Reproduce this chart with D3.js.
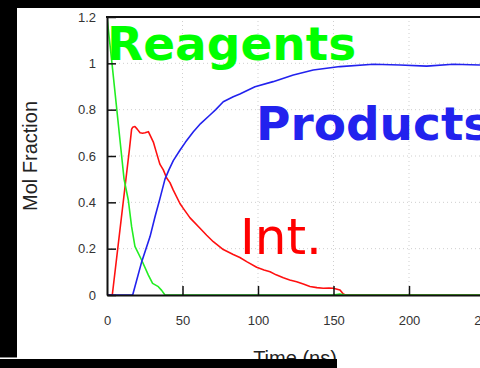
<!DOCTYPE html>
<html><head><meta charset="utf-8">
<script src="https://cdn.jsdelivr.net/npm/d3@7"></script>
<style>html,body{margin:0;padding:0;background:#fff;}svg{display:block;}</style>
</head><body>
<svg id="c" width="480" height="368"></svg>
<script>
// ---- data ----
const xTicks = [0, 50, 100, 150, 200, 250];
const xTickLabels = ["0", "50", "100", "150", "200", "250"];
const yTicks = [0, 0.2, 0.4, 0.6, 0.8, 1.0, 1.2];
const yTickLabels = ["0", "0.2", "0.4", "0.6", "0.8", "1", "1.2"];

const reagentTime = [0, 3.3, 9.7, 11.3, 14.1, 16.3, 18.5, 23, 27.4, 30.2, 34, 36.2, 38.4, 150, 154, 158, 250];
const reagentFrac = [1.2, 1.0, 0.6, 0.5, 0.41, 0.295, 0.21, 0.15, 0.086, 0.05, 0.036, 0.02, 0, 0, 0.004, 0, 0];

const intTime = [0, 3.5, 14.8, 16.3, 17, 18.5, 20, 21.9, 23.6, 25.2, 27.4, 28.5, 30.7, 32.5, 35, 37.3, 39.5, 41.7, 43.9, 48.3, 50.5, 55, 61.6, 66, 70.4, 77, 83.6, 88, 92.5, 99.1, 104, 108, 112, 116.8, 121, 125.6, 130, 134.4, 139, 143.2, 147, 149.9, 154.3, 156.5, 158, 250];
const intFrac = [0, 0, 0.626, 0.716, 0.724, 0.727, 0.716, 0.70, 0.698, 0.70, 0.705, 0.69, 0.66, 0.62, 0.565, 0.54, 0.505, 0.485, 0.453, 0.395, 0.374, 0.333, 0.288, 0.258, 0.23, 0.196, 0.175, 0.162, 0.144, 0.12, 0.108, 0.1, 0.087, 0.074, 0.065, 0.057, 0.047, 0.037, 0.032, 0.029, 0.03, 0.029, 0.022, 0.004, 0, 0];

const prodTime = [0, 17, 23, 28.5, 31.8, 35.1, 38.4, 41, 43.9, 48.3, 52, 57.2, 62, 68.2, 72, 77, 83.6, 88, 98, 110, 123.4, 136.6, 154.3, 176.4, 194, 211.7, 229.3, 247];
const prodFrac = [0, 0, 0.144, 0.252, 0.338, 0.417, 0.5, 0.54, 0.58, 0.625, 0.66, 0.705, 0.74, 0.777, 0.8, 0.834, 0.856, 0.868, 0.899, 0.921, 0.95, 0.971, 0.986, 0.996, 0.993, 0.988, 0.996, 0.993];

const labels = ["Reagents", "Products", "Int."];

// ---- drawing ----
const svg = d3.select("#c");
const x = d3.scaleLinear().domain([0, 250]).range([107, 484.5]);
const y = d3.scaleLinear().domain([0, 1.2]).range([295, 17]);

// grid
const grid = svg.append("g");
grid.selectAll("line.h").data(yTicks.filter(v => v > 0 && v < 1.2)).join("line")
  .attr("x1", x(0)).attr("x2", 484).attr("y1", d => y(d)).attr("y2", d => y(d))
  .attr("stroke", "#cfcfcf").attr("stroke-width", 1).attr("stroke-dasharray", "1,3");
grid.selectAll("line.v").data(xTicks.filter(v => v > 0)).join("line")
  .attr("x1", d => x(d)).attr("x2", d => x(d)).attr("y1", y(1.2)).attr("y2", y(0))
  .attr("stroke", "#cfcfcf").attr("stroke-width", 1).attr("stroke-dasharray", "1,3");

// clip
svg.append("clipPath").attr("id", "pc").append("rect")
  .attr("x", x(0)).attr("y", y(1.2)).attr("width", 400).attr("height", y(0) - y(1.2) + 2);

const line = d3.line().x(d => x(d[0])).y(d => y(d[1]));
const series = [
  {t: intTime, v: intFrac, c: "#ff1010"},
  {t: reagentTime, v: reagentFrac, c: "#22ee22"},
  {t: prodTime, v: prodFrac, c: "#2222ee"}
];
const lg = svg.append("g").attr("clip-path", "url(#pc)");
series.forEach(s => {
  lg.append("path").datum(s.t.map((t, i) => [t, s.v[i]]))
    .attr("d", line).attr("fill", "none").attr("stroke", s.c)
    .attr("stroke-width", 1.6).attr("stroke-linejoin", "round");
});

// axes
const xAxis = d3.axisBottom(x).tickValues(xTicks).tickFormat((d, i) => xTickLabels[i])
  .tickSizeInner(-9).tickSizeOuter(0).tickPadding(21);
const gx = svg.append("g").attr("transform", `translate(0,${y(0)})`).call(xAxis);
const yAxis = d3.axisLeft(y).tickValues(yTicks).tickFormat((d, i) => yTickLabels[i])
  .tickSizeInner(-9).tickSizeOuter(0).tickPadding(11);
const gy = svg.append("g").attr("transform", `translate(${x(0)},0)`).call(yAxis);
[gx, gy].forEach(g => {
  g.select(".domain").attr("stroke", "#111").attr("stroke-width", 2);
  g.selectAll(".tick line").attr("stroke", "#111").attr("stroke-width", 1.5);
  g.selectAll(".tick text").attr("fill", "#333").attr("font-size", 13)
    .attr("font-family", "'Liberation Sans', Arial, sans-serif");
});
gx.selectAll(".tick").filter(d => d === 0).select("line").remove();
// top border
svg.append("line").attr("x1", x(0) - 1).attr("x2", 484).attr("y1", y(1.2)).attr("y2", y(1.2))
  .attr("stroke", "#111").attr("stroke-width", 2);

// axis titles
svg.append("text").attr("transform", `translate(37,${156}) rotate(-90)`)
  .attr("text-anchor", "middle").attr("font-size", 20).attr("fill", "#222")
  .attr("font-family", "'Liberation Sans', Arial, sans-serif").text("Mol Fraction");
svg.append("text").attr("x", 295).attr("y", 365).attr("text-anchor", "middle")
  .attr("font-size", 20).attr("fill", "#222")
  .attr("font-family", "'Liberation Sans', Arial, sans-serif").text("Time (ns)");

// annotations
svg.append("text").attr("x", 107).attr("y", 60).attr("font-size", 47).attr("font-weight", "bold")
  .attr("font-family", "'DejaVu Sans', sans-serif").attr("fill", "#00ff00").text(labels[0]);
svg.append("text").attr("x", 256).attr("y", 140).attr("font-size", 47).attr("font-weight", "bold")
  .attr("font-family", "'DejaVu Sans', sans-serif").attr("fill", "#2222ee").text(labels[1]);
svg.append("text").attr("x", 240).attr("y", 254).attr("font-size", 50)
  .attr("font-family", "'DejaVu Sans', sans-serif").attr("fill", "#ff0000").text(labels[2]);

// black frame pieces
svg.append("rect").attr("x", 0).attr("y", 0).attr("width", 480).attr("height", 8).attr("fill", "#000");
svg.append("rect").attr("x", 0).attr("y", 0).attr("width", 17).attr("height", 357).attr("fill", "#000");
svg.append("rect").attr("x", 0).attr("y", 357).attr("width", 17).attr("height", 1).attr("fill", "#888");
svg.append("rect").attr("x", 0).attr("y", 359).attr("width", 337).attr("height", 9).attr("fill", "#000");
</script>
</body></html>
